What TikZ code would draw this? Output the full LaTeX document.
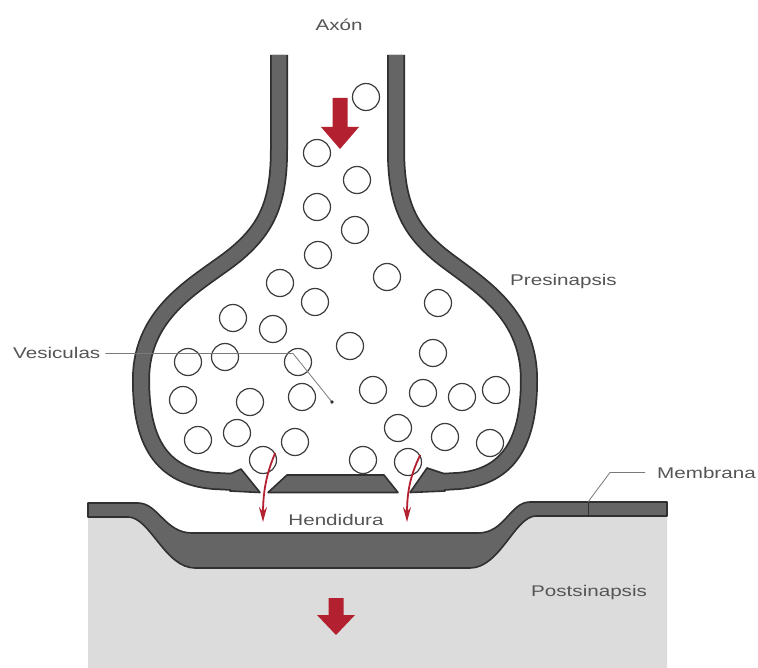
\documentclass[tikz,border=0pt]{standalone}
\usepackage{fontspec}
\newfontfamily\lblfont[FakeStretch=1.33]{Liberation Sans}
\usetikzlibrary{arrows.meta}
\definecolor{wallfill}{HTML}{656565}
\definecolor{walledge}{HTML}{303030}
\definecolor{postgray}{HTML}{DCDCDC}
\definecolor{signal}{HTML}{B3202F}
\definecolor{labelgray}{HTML}{555555}
\definecolor{leadergray}{HTML}{7A7A7A}
\definecolor{vesedge}{HTML}{3C3C3C}

% centre lines of the two halves of the presynaptic membrane
\def\leftwall{(279,55) -- (279,150) .. controls (279,205) and (265,230) .. (235,255)
  .. controls (200,283) and (141,310) .. (141,380)
  .. controls (141,440) and (160,477) .. (215,481) -- (236,482)}
\def\rightwall{(396,55) -- (396,150) .. controls (396,205) and (410,230) .. (440,255)
  .. controls (475,283) and (529,310) .. (529,380)
  .. controls (529,440) and (510,477) .. (458,481) -- (440,482)}

\begin{document}
\begin{tikzpicture}[x=1pt,y=-1pt,
  lbl/.style={font=\lblfont\fontsize{15.5}{18}\selectfont, text=labelgray, inner sep=0pt},
  wallout/.style={line width=18pt, draw=walledge},
  wallin/.style={line width=14.5pt, draw=wallfill},
  solidpart/.style={fill=wallfill, draw=walledge, line width=1.6pt, line join=round},
  vesicle/.style={circle, draw=vesedge, fill=white, line width=1.2pt, minimum size=27pt, inner sep=0pt},
  leader/.style={draw=leadergray, line width=0.8pt},
  release/.style={draw=signal, line width=1.8pt, -{Stealth[length=15pt,width=8pt]}}
]
\useasboundingbox (0,0) rectangle (758,668);
\fill[white] (0,0) rectangle (758,668);

% postsynaptic cytoplasm
\fill[postgray] (88,517) -- (128,517) .. controls (150,517) and (165,568) .. (195,568)
  -- (470,568) .. controls (500,568) and (515,516) .. (536,516)
  -- (667,516) -- (667,668) -- (88,668) -- cycle;

% postsynaptic membrane with its thickened density
\filldraw[solidpart] (88,503) -- (138,503) .. controls (158,503) and (165,533) .. (192,533)
  -- (478,533) .. controls (505,533) and (510,502) .. (530,502) -- (667,502)
  -- (667,516) -- (536,516) .. controls (515,516) and (500,568) .. (470,568)
  -- (195,568) .. controls (165,568) and (150,517) .. (128,517) -- (88,517) -- cycle;

% presynaptic membrane
\draw[wallout] \leftwall;
\draw[wallout] \rightwall;
\filldraw[solidpart] (230,474) -- (241,469) -- (260,492.5) -- (230,491) -- cycle;
\filldraw[solidpart] (445,474) -- (427,468) -- (410,492.5) -- (445,491) -- cycle;
\filldraw[solidpart] (268,492.5) -- (287,475) -- (384,475) -- (398,492.5) -- cycle;
\draw[wallin] \leftwall;
\draw[wallin] \rightwall;

% synaptic vesicles
\foreach \i/\vx/\vy in {1/366/97, 2/317/153, 3/357/180, 4/317/207, 5/355/230,
  6/318/255, 7/387/277, 8/280/283, 9/315/302, 10/438/303, 11/233/318, 12/273/329,
  13/350/346, 14/433/353, 15/188/362, 16/225/357, 17/298/362, 18/183/400,
  19/250/402, 20/302/397, 21/373/390, 22/423/393, 23/462/397, 24/496/390,
  25/198/440, 26/237/433, 27/295/442, 28/398/428, 29/445/437, 30/490/443,
  31/263/460, 32/363/460, 33/408/462}
  \node[vesicle] (v\i) at (\vx,\vy) {};

% transmitter release into the cleft
\coordinate (r1) at (263,522);
\coordinate (r2) at (407,522);
\draw[release] (v31.30) .. controls (268,470) and (263,488) .. (r1);
\draw[release] (v33.30) .. controls (412,472) and (407,488) .. (r2);

% direction of the signal
\fill[signal] (332.5,98) -- (347.5,98) -- (347.5,127) -- (359,127) -- (340,149)
  -- (321,127) -- (332.5,127) -- cycle;
\fill[signal] (328.5,598) -- (343.5,598) -- (343.5,615) -- (355,615) -- (336,635)
  -- (317,615) -- (328.5,615) -- cycle;

% labels
\node[lbl, anchor=base] (axon) at (339,31) {Axón};
\node[lbl, anchor=base west] (pre) at (510,286) {Presinapsis};
\node[lbl, anchor=base west] (ves) at (13,359) {Vesiculas};
\node[lbl, anchor=base west] (mem) at (657,478) {Membrana};
\node[lbl, anchor=base] (cleft) at (336,525) {Hendidura};
\node[lbl, anchor=base west] (post) at (531,596) {Postsinapsis};

% leader lines
\coordinate (vbend) at (293,353);
\coordinate (vdot) at (332,402);
\draw[leader] ([xshift=5pt]ves.east) -- (vbend |- ves.east) -- (vdot);
\fill[black!80] (vdot) circle (1.8pt);
\coordinate (mbend) at (610,472);
\coordinate (mtick) at (588,502);
\draw[walledge, line width=0.9pt] (mtick) -- (588,516);
\draw[leader] ([xshift=-12pt]mem.west) -- (mbend |- mem.west) -- (mtick);
\end{tikzpicture}
\end{document}
